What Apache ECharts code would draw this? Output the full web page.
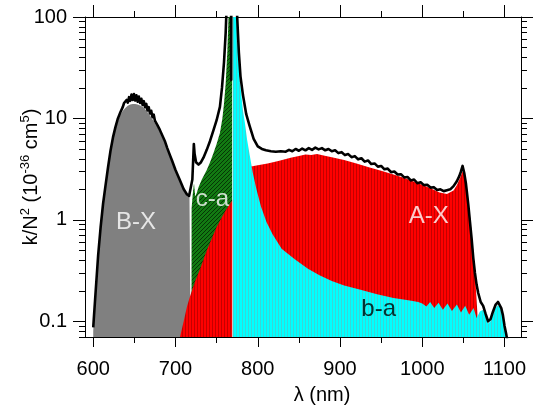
<!DOCTYPE html>
<html>
<head>
<meta charset="utf-8">
<script src="https://cdn.jsdelivr.net/npm/echarts@6/dist/echarts.min.js"></script>
<style>
  html, body { margin: 0; padding: 0; background: #fff; }
  #chart { width: 535px; height: 412px; }
</style>
</head>
<body>
<div id="chart"></div>
<script>
// Collision-induced absorption of N2: [wavelength (nm), k/N^2 (1e-36 cm^5)]
const bxBand = [
  [600,0.08],[603,0.19],[606,0.43],[609,0.82],[612,1.38],[615,2.1],[618,3.15],[621,4.6],
  [624,6.2],[627,7.8],[630,9.4],[633,10.8],[636,11.9],[639,12.7],[642,13.3],[645,13.7],
  [648,13.9],[651,13.9],[654,13.7],[657,13.4],[660,13.0],[663,12.4],[666,11.5],[669,10.7],
  [672,9.8],[675,9.0],[678,8.2],[681,7.3],[684,6.5],[687,5.75],[690,4.9],[693,4.2],
  [696,3.65],[700,3.0],[705,2.42],[710,1.93],[714,1.72],[717,1.66],[718.3,1.6],[718.5,0.05]
];

const caBand = [
  [719.4,0.05],[719.6,1.3],[721,1.8],[722.5,2.3],[724,1.7],[726,1.85],[728,2.1],[732,2.5],
  [738,3.1],[742,3.7],[746,4.5],[750,5.6],[754,7.2],[757,10],[759,14],[761,22],
  [763,45],[764.5,100],[766,300],[769.2,300],[769.3,0.05]
];

const axBand = [
  [700,0.05],[705.5,0.07],[710,0.1],[714,0.14],[718,0.18],[724,0.25],[730,0.33],[738,0.5],
  [744,0.65],[750,0.85],[756,1.05],[762,1.28],[769,1.55],[775,2.0],[782,2.6],[788,3.1],
  [792,3.35],[800,3.45],[812,3.6],[825,3.8],[840,4.1],[850,4.25],[858,4.4],[865,4.35],
  [872,4.45],[880,4.3],[890,4.15],[905,3.9],[920,3.6],[935,3.3],[950,3.05],[965,2.8],
  [980,2.55],[995,2.3],[1010,2.05],[1021,1.86],[1030,1.8],[1038,1.95],[1042,2.2],[1046,2.6],
  [1049,3.0],[1051,2.8],[1053,2.3],[1055,1.8],[1057,1.3],[1059,0.9],[1061,0.6],[1063,0.4],
  [1065,0.22],[1067,0.12],[1068,0.05]
];

const baBand = [
  [769.6,0.05],[769.8,300],[773,200],[774.5,100],[776,50],[778,25],[780,17],[782,12],
  [784.3,9.1],[787,6.2],[790.3,4.3],[794,2.9],[798.4,2.0],[804,1.35],[810.6,0.95],[818,0.72],
  [829,0.52],[845,0.41],[861,0.33],[875,0.285],[890,0.25],[905,0.225],[925,0.205],[945,0.185],
  [965,0.17],[985,0.16],[995,0.155],[1000,0.15],[1005,0.14],[1009.6,0.155],[1014.5,0.135],
  [1019.7,0.152],[1025,0.13],[1030.6,0.15],[1036,0.126],[1042,0.146],[1047,0.122],[1052.2,0.142],
  [1057,0.116],[1062.3,0.135],[1066,0.108],[1070,0.125],[1074,0.13],[1077,0.115],[1080,0.095],
  [1083,0.1],[1086,0.118],[1089,0.135],[1092,0.145],[1095,0.135],[1098,0.108],[1100,0.085],
  [1101.5,0.07],[1102.5,0.05]
];

const totalCurve = [
  [600,0.087],[603,0.2],[606,0.45],[609,0.85],[612,1.45],[615,2.2],[618,3.3],[621,4.8],
  [624,6.5],[627,8.2],[630,10.0],[633,11.5],[636,13.0],[637.5,14.2],[639,13.6],[640.5,15.2],
  [642,14.3],[643.5,16.2],[645,14.9],[646.5,17.2],[648,15.2],[649.5,17.4],[651,15.0],[652.5,16.9],
  [654,14.6],[655.5,16.4],[657,14.2],[658.5,15.6],[660,13.6],[661.5,14.8],[663,12.9],[664.5,13.9],
  [666,12.0],[667.5,12.9],[669,11.2],[670.5,11.9],[672,10.3],[673.5,10.9],[675,9.5],[676.5,9.9],
  [678,8.6],[679.5,8.9],[681,7.7],[684,6.8],[687,6.0],[690,5.1],[693,4.4],[696,3.8],
  [700,3.1],[705,2.5],[710,2.0],[714,1.78],[716.5,1.72],[718.5,1.75],[720.5,2.5],[722.3,5.6],
  [723.2,4.5],[725,3.7],[728,3.5],[731,3.7],[734,4.1],[738,4.9],[742,6.0],[746,7.6],
  [750,9.6],[754,13.0],[756.5,20],[759,36],[761,70],[762.5,150],[764,300],[767.5,300],
  [767.7,24],[767.9,300],[773,300],[775,100],[777,45],[779,26],[782,17],[786,11],
  [790,8.5],[795,6.3],[800,5.3],[805,5.0],[810,4.85],[816,4.75],[822,4.7],[828,4.75],
  [834,4.7],[838,4.9],[842,4.75],[846,5.0],[850,4.8],[854,5.05],[858,4.85],[862,5.1],
  [866,4.9],[870,5.15],[874,4.95],[878,5.1],[882,4.85],[886,5.0],[890,4.75],[894,4.85],
  [898,4.55],[902,4.65],[906,4.35],[910,4.45],[914,4.15],[918,4.25],[922,3.95],[926,4.05],
  [930,3.75],[934,3.85],[938,3.55],[942,3.6],[946,3.35],[950,3.4],[954,3.15],[958,3.2],
  [962,2.95],[966,3.0],[970,2.8],[974,2.82],[978,2.62],[982,2.65],[986,2.45],[990,2.5],
  [994,2.3],[998,2.35],[1002,2.2],[1006,2.22],[1010,2.08],[1014,2.1],[1018,1.97],[1022,2.0],
  [1026,1.92],[1030,1.96],[1034,2.0],[1038,2.15],[1042,2.4],[1045,2.7],[1047,3.0],[1049,3.4],
  [1051,2.9],[1053,2.3],[1056,1.4],[1058,0.95],[1060,0.65],[1062,0.42],[1064,0.3],[1066,0.23],
  [1068,0.19],[1071,0.155],[1074,0.142],[1077,0.118],[1080,0.1],[1083,0.105],[1086,0.125],
  [1089,0.145],[1092,0.155],[1094,0.15],[1096,0.135],[1098,0.115],[1100,0.09],[1102,0.075],
  [1104,0.06]
];

// Band names and where each is written
const bandNames = ['B-X', 'c-a', 'A-X', 'b-a'];
const bandLabelAt = [[652, 0.95], [745, 1.6], [1008, 1.09], [947, 0.132]];
const bandLabelColors = ['#ffffff', '#ffffff', '#ffffff', '#000000'];

// Axis ticks
const xMajorTicks = [600, 700, 800, 900, 1000, 1100];
const xMinorTicks = [650, 750, 850, 950, 1050];
const yMajorTicks = [0.1, 1, 10, 100];
const yMinorTicks = [0.07, 0.08, 0.09, 0.2, 0.3, 0.4, 0.5, 0.6, 0.7, 0.8, 0.9,
  2, 3, 4, 5, 6, 7, 8, 9, 20, 30, 40, 50, 60, 70, 80, 90];

const FONT = '"Liberation Sans", Arial, sans-serif';

// Small repeating fills: striped red / cyan, hatched green
function makePattern(w, h, paint) {
  const c = document.createElement('canvas');
  c.width = w; c.height = h;
  paint(c.getContext('2d'));
  return { image: c, repeat: 'repeat' };
}
const redFill = makePattern(3, 4, g => {
  g.fillStyle = '#ff0000'; g.fillRect(0, 0, 3, 4);
  g.fillStyle = '#c40000'; g.fillRect(2, 0, 1, 4);
});
const cyanFill = makePattern(3, 4, g => {
  g.fillStyle = '#00ffff'; g.fillRect(0, 0, 3, 4);
  g.fillStyle = '#3ad6d6'; g.fillRect(2, 0, 1, 4);
});
const greenFill = makePattern(4, 4, g => {
  g.fillStyle = '#127a12'; g.fillRect(0, 0, 4, 4);
  g.fillStyle = '#053605';
  for (let i = 0; i < 4; i++) g.fillRect(i, 3 - i, 1, 1);
});

function bandSeries(data, fill, z) {
  return {
    type: 'line', data, xAxisIndex: 0, yAxisIndex: 0,
    showSymbol: false, symbol: 'none', z,
    lineStyle: { width: 0 },
    areaStyle: { color: fill, opacity: 1, origin: 'start' },
    silent: true, clip: true
  };
}

function tickAxisX(position, values, len, showLine) {
  return {
    type: 'value', position, min: 590, max: 1120, gridIndex: 0,
    axisLine: { show: showLine, lineStyle: { color: '#000', width: 1 } },
    axisTick: { show: true, length: len, lineStyle: { color: '#000', width: 1 }, customValues: values },
    axisLabel: { show: false }, splitLine: { show: false }
  };
}
function tickAxisY(position, values, len, showLine) {
  return {
    type: 'log', position, min: 0.07, max: 100, gridIndex: 0,
    axisLine: { show: showLine, lineStyle: { color: '#000', width: 1 } },
    axisTick: { show: true, length: len, lineStyle: { color: '#000', width: 1 }, customValues: values },
    axisLabel: { show: false }, splitLine: { show: false }
  };
}

const chart = echarts.init(document.getElementById('chart'), null, { renderer: 'canvas' });

const xMain = tickAxisX('bottom', xMajorTicks, 10, true);
xMain.axisLabel = {
  show: true, customValues: xMajorTicks, fontSize: 20, color: '#000',
  fontFamily: FONT, margin: 22, formatter: v => String(v)
};
xMain.name = 'λ (nm)';
xMain.nameLocation = 'middle';
xMain.nameMoveOverlap = false;
xMain.nameGap = 48;
xMain.nameTextStyle = { fontSize: 20, color: '#000', fontFamily: FONT, padding: [0, 0, 0, 38] };

const yMain = tickAxisY('left', yMajorTicks, 12, true);
yMain.axisLabel = {
  show: true, customValues: yMajorTicks, fontSize: 20, color: '#000',
  fontFamily: FONT, margin: 18, formatter: v => String(v)
};
yMain.name = '{n|k/N}{s|2}{n| (10}{s|-36}{n| cm}{s|5}{n|)}';
yMain.nameLocation = 'middle';
yMain.nameRotate = 90;
yMain.nameMoveOverlap = false;
yMain.nameGap = 42;
yMain.nameTextStyle = {
  color: '#000', fontFamily: FONT, fontSize: 20,
  rich: {
    n: { fontSize: 20, fontFamily: FONT, color: '#000', lineHeight: 24 },
    s: { fontSize: 13, fontFamily: FONT, color: '#000', verticalAlign: 'top', lineHeight: 14 }
  }
};

chart.setOption({
  animation: false,
  backgroundColor: '#ffffff',
  grid: { left: 85, right: 14, top: 17, bottom: 75, containLabel: false, outerBoundsMode: 'none' },
  xAxis: [
    xMain,
    tickAxisX('bottom', xMinorTicks, 6, false),
    tickAxisX('top', xMajorTicks, 12, true),
    tickAxisX('top', xMinorTicks, 6, false)
  ],
  yAxis: [
    yMain,
    tickAxisY('left', yMinorTicks, 6, false),
    tickAxisY('right', yMajorTicks, 12, true),
    tickAxisY('right', yMinorTicks, 6, false)
  ],
  series: [
    bandSeries(bxBand, '#808080', 2),
    bandSeries(caBand, greenFill, 3),
    bandSeries(axBand, redFill, 4),
    Object.assign(bandSeries(baBand, cyanFill, 5), {
      markLine: {
        silent: true, symbol: 'none', label: { show: false },
        lineStyle: { color: '#ffffff', width: 1.5, type: 'solid' },
        data: [{ xAxis: baBand[0][0] }]
      }
    }),
    {
      type: 'line', data: totalCurve, xAxisIndex: 0, yAxisIndex: 0,
      showSymbol: false, symbol: 'none', z: 10, clip: true, silent: true,
      lineStyle: { color: '#000', width: 2.6, join: 'round' }
    },
    {
      type: 'scatter', xAxisIndex: 0, yAxisIndex: 0, z: 12, silent: true,
      symbolSize: 0,
      data: bandNames.map((n, i) => ({
        name: n, value: bandLabelAt[i],
        label: { color: bandLabelColors[i] }
      })),
      label: {
        show: true, position: 'inside', formatter: p => p.name,
        fontSize: 24, fontFamily: FONT
      }
    }
  ]
});
</script>
</body>
</html>
